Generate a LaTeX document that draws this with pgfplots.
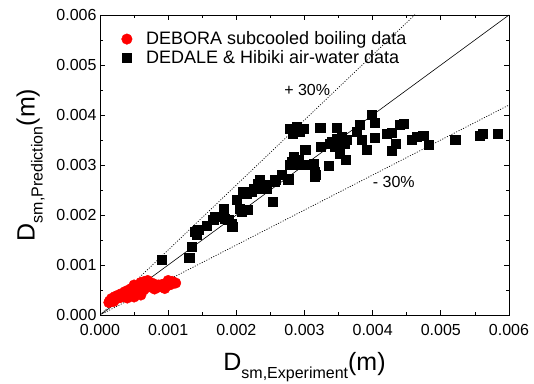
\documentclass[border=0pt]{standalone}
\usepackage{fontspec}
\setmainfont{Liberation Sans}
\usepackage{pgfplots}
\pgfplotsset{compat=1.18}
\begin{document}
\begin{tikzpicture}[x=1pt,y=1pt]
\begin{axis}[
  scale only axis, width=409pt, height=300pt,
  xmin=0, xmax=0.006, ymin=0, ymax=0.006,
  xtick={0,0.001,...,0.006}, ytick={0,0.001,...,0.006},
  minor tick num=1,
  tick align=inside, major tick length=5pt, minor tick length=3pt,
  xtick pos=both, ytick pos=both,
  scaled ticks=false,
  /pgf/number format/assume math mode=true,
  /pgf/number format/fixed, /pgf/number format/fixed zerofill, /pgf/number format/precision=3,
  tick label style={font=\fontsize{16}{19}\selectfont},
  xticklabel style={yshift=-6pt},
  axis line style={line width=0.9pt},
  every tick/.style={black, line width=0.8pt},
  xlabel={\fontsize{25}{30}\selectfont D\raisebox{-8pt}{\fontsize{16}{19}\selectfont sm,Experiment}(m)},
  ylabel={\fontsize{25}{30}\selectfont D\raisebox{-8pt}{\fontsize{16}{19}\selectfont sm,Prediction}(m)},
  xlabel style={yshift=-10pt},
  ylabel style={yshift=5pt},
  legend style={draw=none, fill=none, at={(0.045,0.958)}, anchor=north west,
    font=\fontsize{18}{21}\selectfont, row sep=0pt},
  legend cell align=left,
  clip=true,
]
\addplot[only marks, mark=*, mark size=5.3pt, color=red, mark options={draw=red, fill=red}] coordinates {
(0.00017,0.00033)(0.00022,0.00037)(0.00027,0.00040)(0.00032,0.00043)(0.00037,0.00047)
(0.00042,0.00050)(0.00046,0.00053)(0.00051,0.00056)(0.00056,0.00058)(0.00061,0.00060)
(0.00066,0.00063)(0.00071,0.00066)(0.00076,0.00064)(0.00081,0.00061)(0.00086,0.00060)
(0.00091,0.00061)(0.00096,0.00063)(0.00101,0.00066)(0.00106,0.00067)(0.00111,0.00064)
(0.00014,0.00028)(0.00020,0.00031)(0.00025,0.00033)(0.00030,0.00035)(0.00035,0.00037)
(0.00040,0.00039)(0.00045,0.00040)(0.00050,0.00041)(0.00055,0.00042)(0.00059,0.00044)
(0.00064,0.00050)(0.00069,0.00055)(0.00074,0.00057)(0.00080,0.00057)(0.00086,0.00056)
(0.00092,0.00056)(0.00098,0.00058)(0.00104,0.00061)
(0.00030,0.00039)(0.00040,0.00044)(0.00050,0.00048)(0.00060,0.00052)(0.00070,0.00060)
(0.00060,0.00065)(0.00070,0.00069)(0.00100,0.00069)(0.00050,0.00060)(0.00065,0.00067)
(0.00050,0.00036)(0.00060,0.00040)(0.00080,0.00052)(0.00095,0.00053)(0.00020,0.00027)
(0.00013,0.00025)(0.00040,0.00034)
};
\addlegendentry{\hspace{12pt}DEBORA subcooled boiling data}
\addplot[only marks, mark=square*, mark size=4.6pt, color=black] coordinates {
(0.000904,0.0011)(0.00131,0.00115)(0.00135,0.00137)(0.00139,0.00167)(0.00144,0.0017)
(0.00142,0.0016)(0.00157,0.00178)(0.00169,0.00197)(0.00166,0.0019)(0.00182,0.00213)
(0.00183,0.00193)(0.00188,0.0019)(0.00194,0.00177)(0.00193,0.00183)(0.0020,0.0023)
(0.00208,0.00207)(0.00205,0.00213)(0.00217,0.0021)(0.0021,0.00247)(0.00215,0.00243)
(0.00225,0.00253)(0.00222,0.00247)(0.00234,0.0027)(0.00232,0.00263)(0.00239,0.0026)
(0.00244,0.00253)(0.00253,0.00227)(0.00256,0.00267)(0.00266,0.0028)(0.00276,0.00273)
(0.00267,0.0028)(0.00276,0.0027)(0.00257,0.0027)(0.00242,0.0026)(0.0024,0.00253)
(0.00284,0.00317)(0.00291,0.0031)(0.00279,0.0030)(0.00293,0.0030)(0.00281,0.00307)
(0.00308,0.0030)(0.00315,0.00287)(0.00315,0.00277)(0.00313,0.00303)(0.00317,0.0028)
(0.00301,0.0033)(0.00324,0.00337)(0.00335,0.00299)(0.00352,0.00323)(0.00361,0.0031)
(0.0034,0.00347)(0.00347,0.00353)(0.00354,0.00357)(0.00359,0.00343)(0.00352,0.0033)
(0.00345,0.00337)(0.00362,0.0035)(0.00337,0.00343)
(0.00299,0.00373)(0.00293,0.00367)(0.00283,0.00363)(0.00278,0.00373)(0.00288,0.00377)
(0.00286,0.00367)(0.00290,0.00370)
(0.00323,0.00375)(0.00347,0.00375)(0.00381,0.0038)(0.00376,0.00367)(0.00399,0.0040)
(0.00403,0.00385)(0.00403,0.00355)(0.00384,0.0035)(0.00391,0.0033)(0.00421,0.00363)
(0.00428,0.00364)(0.0044,0.0038)(0.00445,0.00383)(0.00434,0.00343)(0.00428,0.00329)
(0.00457,0.0035)(0.00465,0.00357)(0.00474,0.00358)(0.00482,0.0034)(0.00521,0.00351)
(0.00557,0.00358)(0.00561,0.00362)(0.00583,0.00363)
};
\addlegendentry{\hspace{12pt}DEDALE \& Hibiki air-water data}
\addplot[black, line width=0.6pt, forget plot] coordinates {(0,0) (0.006,0.006)};
\addplot[black, line width=0.7pt, dash pattern=on 1pt off 1.6pt, forget plot] coordinates {(0,0) (0.006,0.0078)};
\addplot[black, line width=0.7pt, dash pattern=on 1pt off 1.6pt, forget plot] coordinates {(0,0) (0.006,0.0042)};
\node[font=\fontsize{16}{19}\selectfont] at (axis cs:0.00304,0.0045) {+ 30\%};
\node[font=\fontsize{16}{19}\selectfont] at (axis cs:0.00431,0.00266) {- 30\%};
\end{axis}
\pgfresetboundingbox
\path[use as bounding box] ([shift={(-100pt,-68pt)}]current axis.south west) rectangle ([shift={(25pt,15pt)}]current axis.north east);
\end{tikzpicture}
\end{document}
